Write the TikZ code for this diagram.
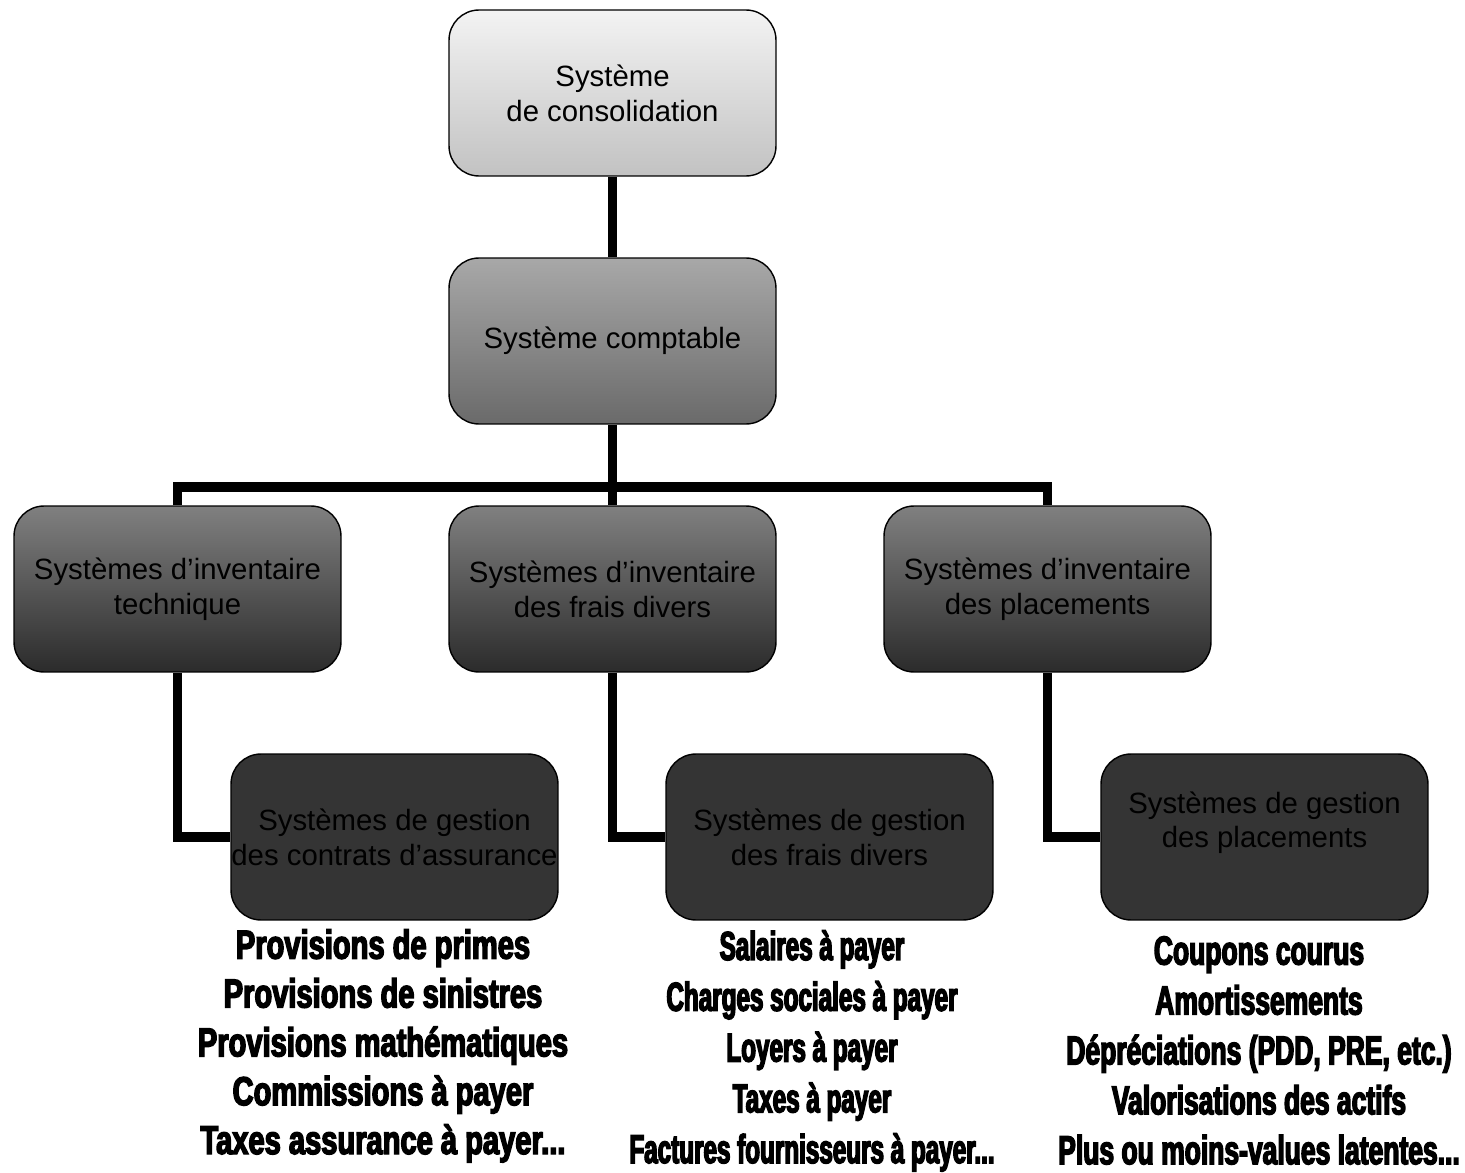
\documentclass[tikz,border=0pt]{standalone}
\usepackage{fontspec}
\setmainfont{Liberation Sans}
\newfontfamily\listfontA{Liberation Sans Bold}[FakeStretch=0.72,FakeBold=3.5]
\newfontfamily\listfontB{Liberation Sans Bold}[FakeStretch=0.60,FakeBold=3.5]
\newfontfamily\listfontC{Liberation Sans Bold}[FakeStretch=0.655,FakeBold=3.5]
\definecolor{consTop}{HTML}{F3F3F3}
\definecolor{consBot}{HTML}{C2C2C2}
\definecolor{comptTop}{HTML}{A8A8A8}
\definecolor{comptBot}{HTML}{6A6A6A}
\definecolor{invTop}{HTML}{808080}
\definecolor{invBot}{HTML}{2B2B2B}
\definecolor{gestFill}{HTML}{343434}
\begin{document}
\begin{tikzpicture}[x=0.02cm,y=-0.02cm]
	\tikzset{box/.style = {draw=black,line width=0.8pt,rounded corners=0.6cm,minimum width=6.54cm,minimum height=3.32cm,inner sep=0pt,align=center,font=\fontsize{16.7}{19.8}\selectfont}}
	\tikzset{link/.style = {line width=5.3pt,line join=miter}}
	\tikzset{liste/.style = {anchor=north,inner sep=0pt,align=center}}
	\useasboundingbox (0,0) rectangle (1465,1173);
	% niveaux
	\node[box,top color=consTop,bottom color=consBot] (cons) at (612.5,93) {Système\\de consolidation};
	\node[box,top color=comptTop,bottom color=comptBot] (compt) at (612.5,341) {Système comptable};
	\node[box,top color=invTop,bottom color=invBot] (invtech) at (177.5,589) {Systèmes d’inventaire\\technique};
	\node[box,top color=invTop,bottom color=invBot] (invfrais) at (612.5,589) {Systèmes d’inventaire\\des frais divers};
	\node[box,top color=invTop,bottom color=invBot] (invplac) at (1047.5,589) {Systèmes d’inventaire\\des placements};
	\node[box,fill=gestFill] (gestcontr) at (394.5,837) {Systèmes de gestion\\des contrats d’assurance};
	\node[box,fill=gestFill] (gestfrais) at (829.5,837) {Systèmes de gestion\\des frais divers};
	\node[box,fill=gestFill] (gestplac) at (1264.5,837) {Systèmes de gestion\\des placements\\\mbox{}};
	% liaisons
	\coordinate (bus) at (612.5,487);
	\draw[link] (cons) -- (compt);
	\draw[link] (compt) -- (invfrais);
	\draw[link] (invtech.north) |- (bus) -| (invplac.north);
	\draw[link] (invtech.south) |- (gestcontr.west);
	\draw[link] (invfrais.south) |- (gestfrais.west);
	\draw[link] (invplac.south) |- (gestplac.west);
	% listes
	\node[liste,font=\listfontA\fontsize{23}{27.8}\selectfont] (listecontr) at (383,929) {Provisions de primes\\Provisions de sinistres\\Provisions mathématiques\\Commissions à payer\\Taxes assurance à payer...};
	\node[liste,font=\listfontB\fontsize{23}{28.9}\selectfont] (listefrais) at (812,930) {Salaires à payer\\Charges sociales à payer\\Loyers à payer\\Taxes à payer\\Factures fournisseurs à payer...};
	\node[liste,font=\listfontC\fontsize{23}{28.4}\selectfont] (listeplac) at (1259,936) {Coupons courus\\Amortissements\\Dépréciations (PDD, PRE, etc.)\\Valorisations des actifs\\Plus ou moins-values latentes...};
\end{tikzpicture}
\end{document}
